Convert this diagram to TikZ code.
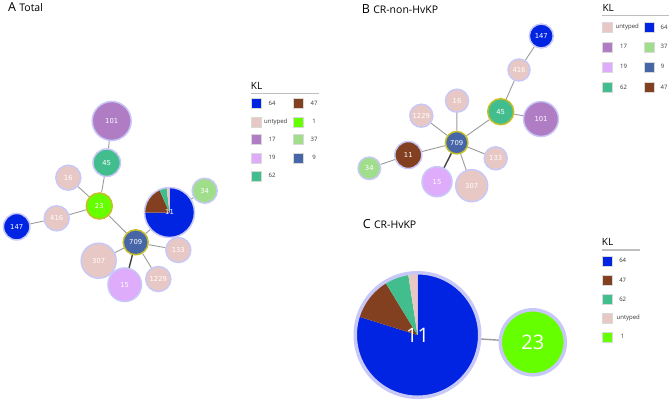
\documentclass[tikz,border=0pt]{standalone}
\usepackage{fontspec}
\setmainfont{Open Sans}
\newfontfamily\labfont{DejaVu Sans}
\usepackage{tikz}
\usetikzlibrary{positioning}
\definecolor{kl64}{RGB}{0,36,226}
\definecolor{kl47}{RGB}{130,64,32}
\definecolor{klun}{RGB}{232,200,196}
\definecolor{kl1}{RGB}{102,255,0}
\definecolor{kl17}{RGB}{176,124,196}
\definecolor{kl37}{RGB}{160,222,140}
\definecolor{kl19}{RGB}{222,172,250}
\definecolor{kl9}{RGB}{70,102,168}
\definecolor{kl62}{RGB}{66,190,142}
\definecolor{ring}{RGB}{200,200,248}
\definecolor{hubring}{RGB}{196,190,40}
\definecolor{edgegray}{RGB}{155,155,155}

\begin{document}
\begin{tikzpicture}[x=1pt,y=-1pt,
 strain/.style={circle,draw=ring,line width=1.5pt,inner sep=0pt,text=white,font=\labfont\fontsize{6.8}{7}\selectfont},
 hub/.style={strain,draw=hubring},
 big/.style={strain,line width=3.5pt,font=\fontsize{20}{20}\selectfont},
 link/.style={draw=edgegray,line width=0.9pt},
 strong/.style={draw=black!75,line width=1.4pt},
 key/.style={draw=black!15,line width=0.4pt,minimum size=10pt,inner sep=0pt},
 keytext/.style={font=\fontsize{6}{7}\selectfont,inner sep=0pt,text=black!80},
 kltitle/.style={font=\fontsize{10}{10}\selectfont,anchor=base west,inner sep=0pt},
 keyrule/.style={draw=black!25,line width=1.3pt},
 paneltitle/.style={anchor=base west,inner sep=0pt}]

\useasboundingbox (0,0) rectangle (669,402);

\node[paneltitle] (titleA) at (8,11.7) {\fontsize{12.5}{12}\selectfont A \fontsize{10.5}{10}\selectfont Total};
\node[paneltitle] (titleB) at (361.7,13.3) {\fontsize{12.5}{12}\selectfont B \fontsize{10.5}{10}\selectfont CR-non-HvKP};
\node[paneltitle] (titleC) at (362.7,228.3) {\fontsize{12.5}{12}\selectfont C \fontsize{10.5}{10}\selectfont CR-HvKP};

\fill[kl64] (169.5,212.5) -- ++(-90:25) arc[start angle=-90,end angle=180,radius=25] -- cycle;
\fill[kl47] (169.5,212.5) -- ++(180:25) arc[start angle=180,end angle=246,radius=25] -- cycle;
\fill[kl62] (169.5,212.5) -- ++(246:25) arc[start angle=246,end angle=263.4,radius=25] -- cycle;
\fill[klun] (169.5,212.5) -- ++(263.4:25) arc[start angle=263.4,end angle=270,radius=25] -- cycle;

\node[strain,fill=kl17,minimum size=39] (a101) at (111.7,121) {101};
\node[strain,fill=kl62,minimum size=27.5] (a45) at (106.7,162.7) {45};
\node[strain,fill=klun,minimum size=25] (a16) at (68.3,177.7) {16};
\node[hub,fill=kl1,minimum size=26] (a23) at (99.3,206) {23};
\node[strain,fill=klun,minimum size=25] (a416) at (56.7,218.3) {416};
\node[strain,fill=kl64,minimum size=26.5] (a147) at (16.7,226.7) {147};
\node[strain,minimum size=50] (a11) at (169.5,212.5) {11};
\node[strain,fill=kl37,minimum size=25] (a34) at (204.7,190.7) {34};
\node[hub,fill=kl9,minimum size=25] (a709) at (135.7,242.3) {709};
\node[strain,fill=klun,minimum size=25] (a133) at (178.3,250) {133};
\node[strain,fill=klun,minimum size=35] (a307) at (98.7,260.7) {307};
\node[strain,fill=kl19,minimum size=33.5] (a15) at (124.7,284.7) {15};
\node[strain,fill=klun,minimum size=25] (a1229) at (158.3,279) {1229};

\draw[link] (a101) -- (a45);
\draw[link] (a45) -- (a23);
\draw[link] (a16) -- (a23);
\draw[link] (a23) -- (a416);
\draw[link] (a416) -- (a147);
\draw[link] (a23) -- (a709);
\draw[link] (a709) -- (a11);
\draw[link] (a11) -- (a34);
\draw[link] (a709) -- (a133);
\draw[link] (a709) -- (a307);
\draw[link] (a709) -- (a1229);
\draw[strong] (a709) -- (a15);

\node[kltitle] (klA) at (250.7,89.3) {KL};
\draw[keyrule] (250.7,93.3) -- (319,93.3);
\node[key,fill=kl64] (kA64) at (256,103.3) {};
\node[keytext] (tA64) at (272,103.3) {64};
\node[key,fill=klun] (kAun) at (256,121.7) {};
\node[keytext] (tAun) at (275.8,121.7) {untyped};
\node[key,fill=kl17] (kA17) at (256,139.3) {};
\node[keytext] (tA17) at (272,139.3) {17};
\node[key,fill=kl19] (kA19) at (256,157.7) {};
\node[keytext] (tA19) at (272,157.7) {19};
\node[key,fill=kl62] (kA62) at (256,175.7) {};
\node[keytext] (tA62) at (272,175.7) {62};
\node[key,fill=kl47] (kA47) at (297.7,103.3) {};
\node[keytext] (tA47) at (314,103.3) {47};
\node[key,fill=kl1] (kA1) at (297.7,121.7) {};
\node[keytext] (tA1) at (314,121.7) {1};
\node[key,fill=kl37] (kA37) at (297.7,139.3) {};
\node[keytext] (tA37) at (314,139.3) {37};
\node[key,fill=kl9] (kA9) at (297.7,157.7) {};
\node[keytext] (tA9) at (314,157.7) {9};

\node[strain,fill=kl64,minimum size=24] (b147) at (541.3,36) {147};
\node[strain,fill=klun,minimum size=22] (b416) at (519,70) {416};
\node[hub,fill=kl62,minimum size=26] (b45) at (500.7,111.7) {45};
\node[strain,fill=kl17,minimum size=35] (b101) at (541,119) {101};
\node[strain,fill=klun,minimum size=23] (b16) at (457,100.7) {16};
\node[strain,fill=klun,minimum size=23] (b1229) at (421.3,115.7) {1229};
\node[hub,fill=kl9,minimum size=22.5] (b709) at (456.7,142.7) {709};
\node[strain,fill=kl47,minimum size=27] (b11) at (408.3,155) {11};
\node[strain,fill=kl37,minimum size=22.5] (b34) at (369.3,168.3) {34};
\node[strain,fill=klun,minimum size=23] (b133) at (495.7,158.3) {133};
\node[strain,fill=kl19,minimum size=30] (b15) at (437,181.7) {15};
\node[strain,fill=klun,minimum size=32] (b307) at (471.7,185.7) {307};

\draw[link] (b147) -- (b416);
\draw[link] (b416) -- (b45);
\draw[link] (b45) -- (b101);
\draw[link] (b45) -- (b709);
\draw[link] (b709) -- (b16);
\draw[link] (b709) -- (b1229);
\draw[link] (b709) -- (b11);
\draw[link] (b11) -- (b34);
\draw[link] (b709) -- (b133);
\draw[link] (b709) -- (b307);
\draw[strong] (b709) -- (b15);

\node[kltitle] (klB) at (602.3,11) {KL};
\draw[keyrule] (602.3,15.7) -- (669,15.7);
\node[key,fill=klun] (kBun) at (606.7,27.3) {};
\node[keytext] (tBun) at (627.2,27.3) {untyped};
\node[key,fill=kl17] (kB17) at (606.7,46.7) {};
\node[keytext] (tB17) at (623.5,46.7) {17};
\node[key,fill=kl19] (kB19) at (606.7,66.7) {};
\node[keytext] (tB19) at (623.5,66.7) {19};
\node[key,fill=kl62] (kB62) at (606.7,87.3) {};
\node[keytext] (tB62) at (623.5,87.3) {62};
\node[key,fill=kl64] (kB64) at (649,27.3) {};
\node[keytext] (tB64) at (664,27.3) {64};
\node[key,fill=kl37] (kB37) at (649,46.7) {};
\node[keytext] (tB37) at (664,46.7) {37};
\node[key,fill=kl9] (kB9) at (649,66.7) {};
\node[keytext] (tB9) at (662.5,66.7) {9};
\node[key,fill=kl47] (kB47) at (649,87.3) {};
\node[keytext] (tB47) at (664,87.3) {47};

\fill[kl64] (417.5,335) -- ++(-90:62.5) arc[start angle=-90,end angle=197.4,radius=62.5] -- cycle;
\fill[kl47] (417.5,335) -- ++(197.4:62.5) arc[start angle=197.4,end angle=238.5,radius=62.5] -- cycle;
\fill[kl62] (417.5,335) -- ++(238.5:62.5) arc[start angle=238.5,end angle=261.3,radius=62.5] -- cycle;
\fill[klun] (417.5,335) -- ++(261.3:62.5) arc[start angle=261.3,end angle=270,radius=62.5] -- cycle;

\node[big,minimum size=124.5] (c11) at (417.5,335) {11};
\node[big,fill=kl1,minimum size=65] (c23) at (532.8,342.3) {23};
\draw[link,line width=1.4pt] (c11) -- (c23);

\node[kltitle] (klC) at (601.7,245.7) {KL};
\draw[keyrule] (601.7,250) -- (640,250);
\node[key,fill=kl64] (kC64) at (606.7,260.7) {};
\node[keytext] (tC64) at (622.7,260.7) {64};
\node[key,fill=kl47] (kC47) at (606.7,280) {};
\node[keytext] (tC47) at (622.7,280) {47};
\node[key,fill=kl62] (kC62) at (606.7,299) {};
\node[keytext] (tC62) at (622.7,299) {62};
\node[key,fill=klun] (kCun) at (606.7,318.3) {};
\node[keytext] (tCun) at (628.3,318.3) {untyped};
\node[key,fill=kl1] (kC1) at (606.7,336.7) {};
\node[keytext] (tC1) at (622.7,336.7) {1};
\end{tikzpicture}
\end{document}
